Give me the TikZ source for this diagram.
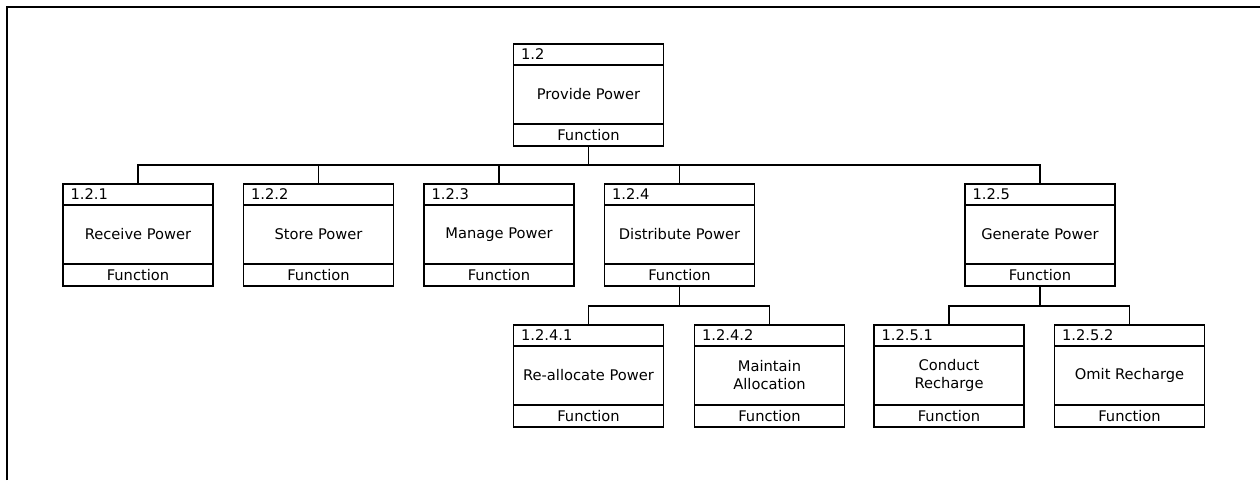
\documentclass[tikz,border=0pt]{standalone}
\usepackage{fontspec}
\setmainfont{DejaVu Sans}
\usetikzlibrary{positioning, calc}

\begin{document}
\begin{tikzpicture}[x=0.75pt, y=-0.75pt,
    fnbox/.style={draw, line width=0.8pt, rectangle, inner sep=0pt, outer sep=0pt,
        minimum width=112.5pt, minimum height=76.5pt},
    fntext/.style={inner sep=0pt, align=center, font=\fontsize{11}{13.5}\selectfont},
    link/.style={line width=0.8pt}]
    \useasboundingbox (0,0) rectangle (1260,480);
    \draw[line width=0.9pt] (7,480) -- (7,7) -- (1260,7);
    % function boxes: name / x / y / number / label
    \foreach \name/\x/\y/\num/\lbl in {
        p/588.5/95/1.2/{Provide Power},
        b1/138/235/1.2.1/{Receive Power},
        b2/318.5/235/1.2.2/{Store Power},
        b3/499/235/1.2.3/{Manage Power},
        b4/679.5/235/1.2.4/{Distribute Power},
        b5/1040/235/1.2.5/{Generate Power},
        c1/588.5/376/1.2.4.1/{Re-allocate Power},
        c2/769.5/376/1.2.4.2/{Maintain\\Allocation},
        d1/949/376/1.2.5.1/{Conduct\\Recharge},
        d2/1129.5/376/1.2.5.2/{Omit Recharge}}
    {
        \node[fnbox] (\name) at (\x,\y) {};
        \draw[link]
        ([yshift=-15.75pt]\name.north west) -- ([yshift=-15.75pt]\name.north east)
        ([yshift=16.5pt]\name.south west) -- ([yshift=16.5pt]\name.south east);
        \node[fntext, anchor=west] (\name-num) at ([xshift=5.5pt, yshift=-7.9pt]\name.north west) {\num};
        \node[fntext] (\name-lbl) at ([yshift=0.4pt]\name.center) {\lbl};
        \node[fntext] (\name-type) at ([yshift=8.25pt]\name.south) {Function};
    }
    % buses
    \coordinate (bus) at (0,165);
    \coordinate (busb) at (0,306);
    \draw[link] (p.south) -- (p.south |- bus);
    \draw[link] (b1.north) |- (b5.north |- bus) -- (b5.north);
    \foreach \kid in {b2, b3, b4}
        \draw[link] (\kid.north) -- (\kid.north |- bus);
    \draw[link] (b4.south) -- (b4.south |- busb);
    \draw[link] (c1.north) |- (c2.north |- busb) -- (c2.north);
    \draw[link] (b5.south) -- (b5.south |- busb);
    \draw[link] (d1.north) |- (d2.north |- busb) -- (d2.north);
\end{tikzpicture}
\end{document}
